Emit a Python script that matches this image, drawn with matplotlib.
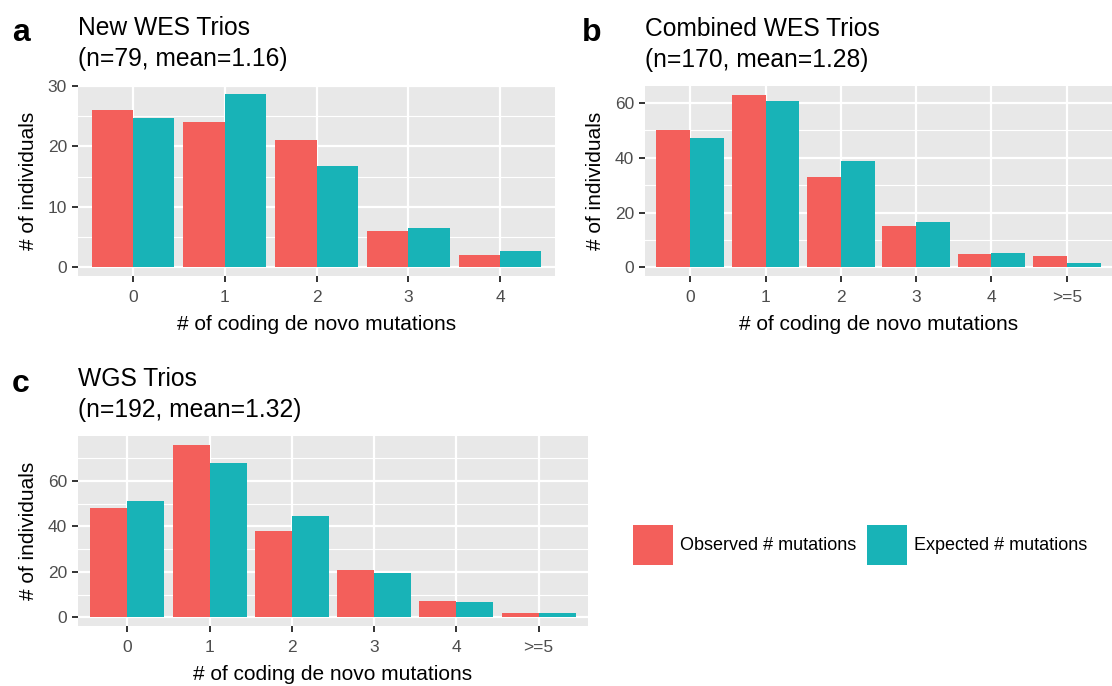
import matplotlib.pyplot as plt
from matplotlib.patches import Patch
from matplotlib.ticker import MultipleLocator
import numpy as np

plt.rcParams['font.family'] = ['Liberation Sans', 'DejaVu Sans']

# counts
cats_a = ['0', '1', '2', '3', '4']
obs_a = [26, 24, 21, 6, 2]
exp_a = [24.7, 28.7, 16.7, 6.5, 2.7]

cats_b = ['0', '1', '2', '3', '4', '>=5']
obs_b = [50, 63, 33, 15, 5, 4]
exp_b = [47.2, 60.6, 38.8, 16.5, 5.3, 1.6]

cats_c = ['0', '1', '2', '3', '4', '>=5']
obs_c = [48, 76, 38, 21, 7, 2]
exp_c = [51.2, 67.8, 44.7, 19.4, 6.6, 2.1]

titles = ['New WES Trios\n(n=79, mean=1.16)',
          'Combined WES Trios\n(n=170, mean=1.28)',
          'WGS Trios\n(n=192, mean=1.32)']
letters = ['a', 'b', 'c']
legend_labels = ['Observed # mutations', 'Expected # mutations']

RED = '#F35F5B'
TEAL = '#18B3B7'
BG = '#E8E8E8'
W, H = 1112, 686


def box(left, top, right, bottom):
    return [left / W, 1 - bottom / H, (right - left) / W, (bottom - top) / H]


def draw_panel(ax, cats, obs, exp, step, title):
    x = np.arange(len(cats))
    bw = 0.45
    ax.bar(x - bw / 2, obs, bw, color=RED, zorder=3)
    ax.bar(x + bw / 2, exp, bw, color=TEAL, zorder=3)
    top = max(max(obs), max(exp))
    ax.set_ylim(-0.05 * top, 1.05 * top)
    ax.set_xlim(-0.6, len(cats) - 0.4)
    ax.set_facecolor(BG)
    ax.yaxis.set_major_locator(MultipleLocator(step))
    ax.yaxis.set_minor_locator(MultipleLocator(step / 2))
    ax.set_xticks(x)
    ax.set_xticklabels(cats)
    ax.grid(which='major', color='white', linewidth=1.6, zorder=0)
    ax.grid(which='minor', axis='y', color='white', linewidth=0.8, zorder=0)
    ax.set_axisbelow(True)
    for s in ax.spines.values():
        s.set_visible(False)
    ax.tick_params(which='major', length=4, width=1.4, color='#333333',
                   labelcolor='#4D4D4D', labelsize=12.5, pad=4)
    ax.tick_params(axis='x', pad=6)
    ax.tick_params(which='minor', length=0)
    ax.set_xlabel('# of coding de novo mutations', fontsize=15, labelpad=7)
    ax.set_ylabel('# of individuals', fontsize=15, labelpad=7)
    ax.set_title(title, loc='left', fontsize=17.7, pad=14, linespacing=1.35)


fig = plt.figure(figsize=(W / 100, H / 100), dpi=100)
ax_a = fig.add_axes(box(78, 85, 555, 276))
ax_b = fig.add_axes(box(645, 86, 1112, 276))
ax_c = fig.add_axes(box(78, 436, 588, 626))

draw_panel(ax_a, cats_a, obs_a, exp_a, 10, titles[0])
draw_panel(ax_b, cats_b, obs_b, exp_b, 20, titles[1])
draw_panel(ax_c, cats_c, obs_c, exp_c, 20, titles[2])

# panel letters
for (px, py), letter in zip([(12, 41), (582, 41), (12, 392)], letters):
    fig.text(px / W, 1 - py / H, letter, fontsize=23, fontweight='bold',
             va='baseline', ha='left')

handles = [Patch(facecolor=RED), Patch(facecolor=TEAL)]
fig.legend(handles, legend_labels, loc='center', ncol=2, frameon=False,
           bbox_to_anchor=(860 / W, 1 - 545 / H), fontsize=13,
           handlelength=2.2, handleheight=3.0, handletextpad=0.4,
           columnspacing=0.6)

fig.savefig('out.png', dpi=100)
